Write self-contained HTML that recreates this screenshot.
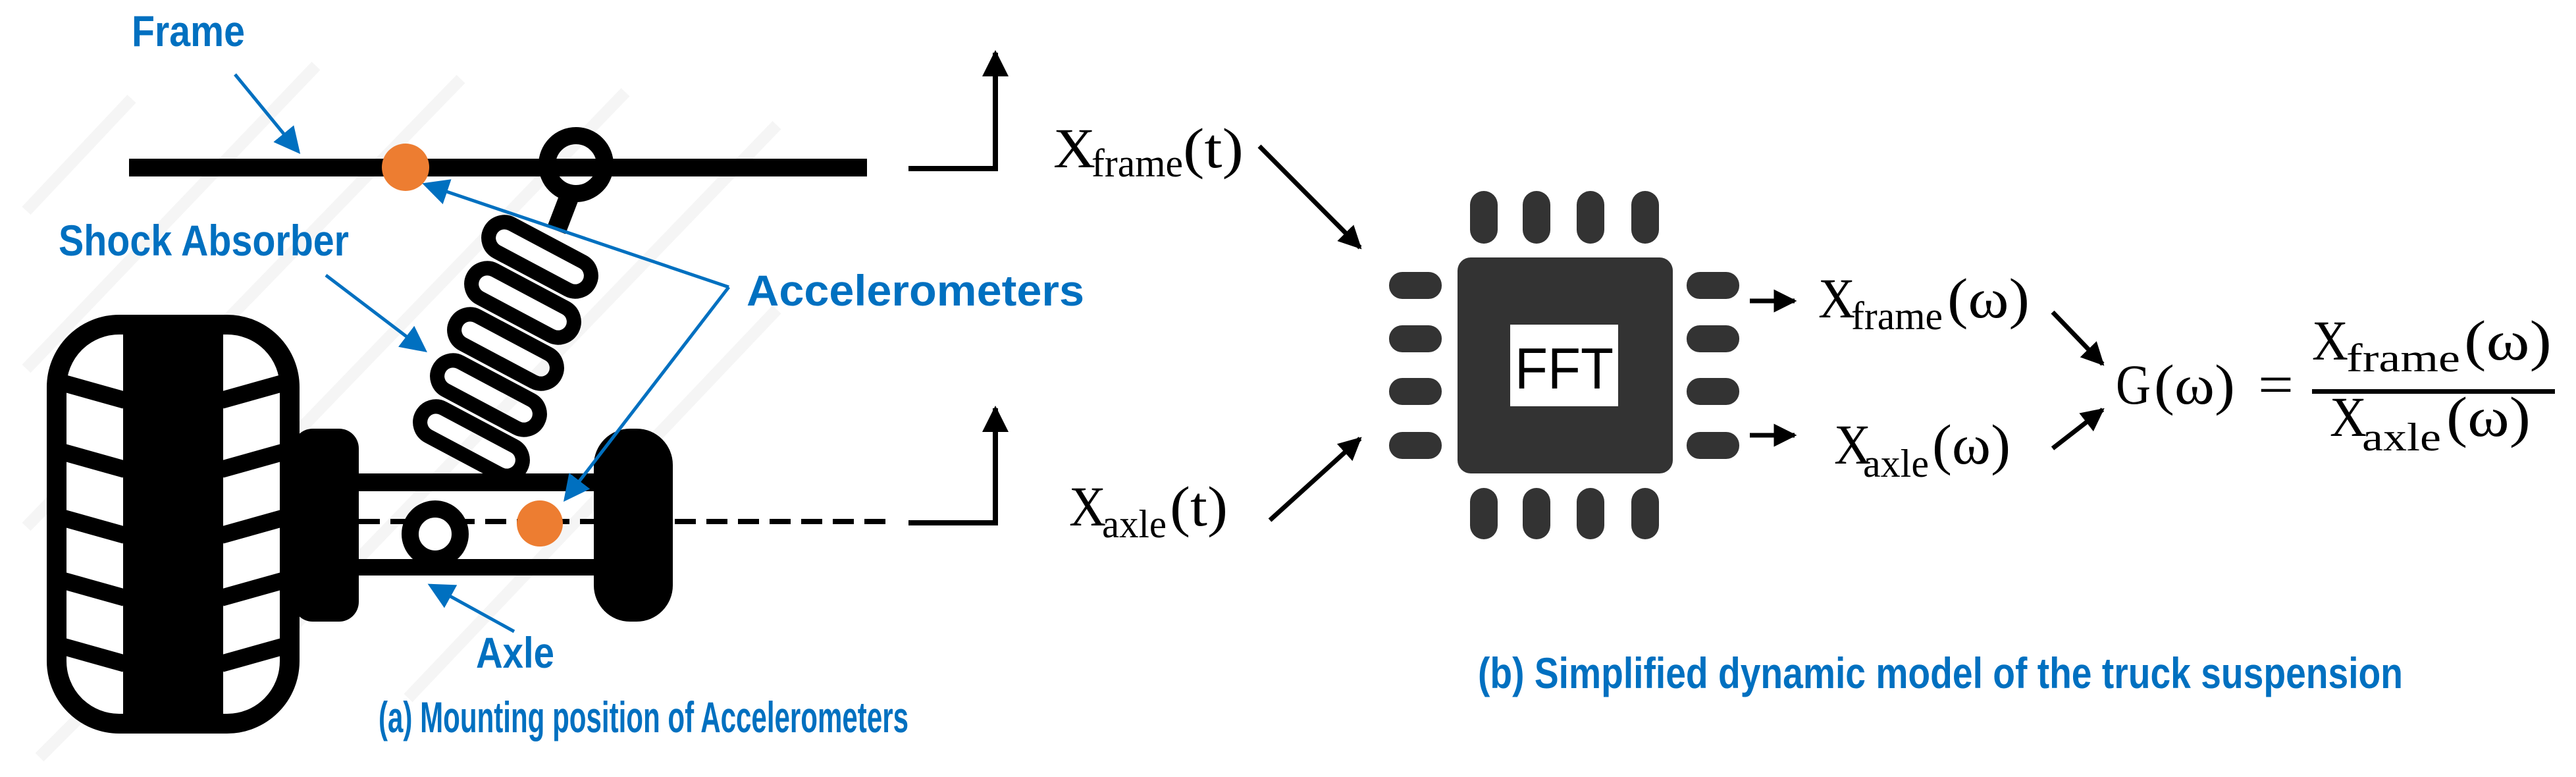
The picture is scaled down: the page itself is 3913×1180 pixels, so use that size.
<!DOCTYPE html>
<html><head><meta charset="utf-8"><style>
html,body{margin:0;padding:0;background:#fff;width:3913px;height:1180px;overflow:hidden}
svg{display:block}
.lb{font-family:"Liberation Sans",sans-serif;font-weight:bold;fill:#0070C0;font-size:66px}
.m{font-family:"Liberation Serif",serif;fill:#000;font-size:86px}
.s{font-family:"Liberation Serif",serif;fill:#000;font-size:60px}
</style></head><body>
<svg width="3913" height="1180" viewBox="0 0 3913 1180" xmlns="http://www.w3.org/2000/svg">
<defs>
<marker id="ab" markerWidth="8" markerHeight="8" refX="7" refY="4" orient="auto" markerUnits="strokeWidth"><path d="M0,0 L8,4 L0,8 z" fill="#0070C0"/></marker>
<marker id="ak" markerWidth="5" markerHeight="5" refX="4.5" refY="2.5" orient="auto" markerUnits="strokeWidth"><path d="M0,0 L5,2.5 L0,5 z" fill="#000"/></marker>
</defs>
<g stroke="#f5f5f5" stroke-width="18">
<line x1="40" y1="320" x2="200" y2="150"/><line x1="40" y1="560" x2="480" y2="100"/>
<line x1="40" y1="800" x2="700" y2="120"/><line x1="120" y1="1000" x2="950" y2="140"/>
<line x1="360" y1="1040" x2="1180" y2="190"/><line x1="620" y1="1060" x2="1180" y2="470"/>
<line x1="60" y1="1150" x2="140" y2="1070"/>
</g>
<rect x="196" y="241" width="1121" height="27" fill="#000"/>
<circle cx="875" cy="250" r="44" fill="none" stroke="#000" stroke-width="26"/>
<line x1="868" y1="290" x2="845" y2="350" stroke="#000" stroke-width="30"/>
<g fill="none" stroke="#000" stroke-width="22">
<rect x="-85" y="-24" width="170" height="48" rx="24" transform="translate(820,390) rotate(28)"/>
<rect x="-85" y="-24" width="170" height="48" rx="24" transform="translate(794,460) rotate(28)"/>
<rect x="-85" y="-24" width="170" height="48" rx="24" transform="translate(768,530) rotate(28)"/>
<rect x="-85" y="-24" width="170" height="48" rx="24" transform="translate(742,600) rotate(28)"/>
<rect x="-85" y="-24" width="170" height="48" rx="24" transform="translate(716,670) rotate(28)"/>
</g>
<rect x="86" y="493" width="354" height="606" rx="95" fill="#fff" stroke="#000" stroke-width="30"/>
<rect x="187" y="480" width="152" height="632" fill="#000"/>
<g stroke="#000" stroke-width="26">
<line x1="90" y1="580" x2="190" y2="608"/><line x1="90" y1="685" x2="190" y2="713"/>
<line x1="90" y1="785" x2="190" y2="813"/><line x1="90" y1="880" x2="190" y2="908"/>
<line x1="90" y1="980" x2="190" y2="1008"/>
<line x1="336" y1="608" x2="436" y2="580"/><line x1="336" y1="713" x2="436" y2="685"/>
<line x1="336" y1="813" x2="436" y2="785"/><line x1="336" y1="908" x2="436" y2="880"/>
<line x1="336" y1="1008" x2="436" y2="980"/>
</g>
<rect x="445" y="651" width="100" height="293" rx="30" fill="#000"/>
<rect x="902" y="651" width="120" height="293" rx="55" fill="#000"/>
<rect x="540" y="719" width="370" height="27" fill="#000"/>
<rect x="540" y="849" width="370" height="25" fill="#000"/>
<line x1="545" y1="792" x2="1360" y2="792" stroke="#000" stroke-width="8" stroke-dasharray="32,16"/>
<circle cx="661" cy="811" r="38" fill="#fff" stroke="#000" stroke-width="26"/>
<circle cx="616" cy="254" r="36" fill="#ED7D31"/>
<circle cx="820" cy="795" r="35" fill="#ED7D31"/>
<g stroke="#0070C0" stroke-width="5" fill="none">
<line x1="357" y1="113" x2="453" y2="230" marker-end="url(#ab)"/>
<line x1="495" y1="418" x2="645" y2="532" marker-end="url(#ab)"/>
<line x1="1107" y1="436" x2="646" y2="280" marker-end="url(#ab)"/>
<line x1="1107" y1="436" x2="859" y2="758" marker-end="url(#ab)"/>
<line x1="781" y1="959" x2="654" y2="889" marker-end="url(#ab)"/>
</g>
<text class="lb" x="200" y="70" textLength="172" lengthAdjust="spacingAndGlyphs">Frame</text>
<text class="lb" x="89" y="388" textLength="441" lengthAdjust="spacingAndGlyphs">Shock Absorber</text>
<text class="lb" x="1134" y="464" textLength="513" lengthAdjust="spacingAndGlyphs">Accelerometers</text>
<text class="lb" x="723" y="1014" textLength="119" lengthAdjust="spacingAndGlyphs">Axle</text>
<text class="lb" x="575" y="1112" textLength="805" lengthAdjust="spacingAndGlyphs">(a) Mounting position of Accelerometers</text>
<text class="lb" x="2245" y="1045" textLength="1405" lengthAdjust="spacingAndGlyphs">(b) Simplified dynamic model of the truck suspension</text>
<g stroke="#000" stroke-width="8" fill="none">
<polyline points="1380,256 1512,256 1512,80" marker-end="url(#ak)"/>
<polyline points="1380,794 1512,794 1512,620" marker-end="url(#ak)"/>
</g>
<text class="m" x="1600" y="254" textLength="64" lengthAdjust="spacingAndGlyphs">X</text>
<text class="s" x="1658" y="268" textLength="139" lengthAdjust="spacingAndGlyphs">frame</text>
<text class="m" x="1797" y="254" textLength="92" lengthAdjust="spacingAndGlyphs">(t)</text>
<text class="m" x="1624" y="798" textLength="56" lengthAdjust="spacingAndGlyphs">X</text>
<text class="s" x="1674" y="816" textLength="98" lengthAdjust="spacingAndGlyphs">axle</text>
<text class="m" x="1777" y="798" textLength="88" lengthAdjust="spacingAndGlyphs">(t)</text>
<g stroke="#000" stroke-width="7">
<line x1="1913" y1="222" x2="2066" y2="376" marker-end="url(#ak)"/>
<line x1="1929" y1="790" x2="2066" y2="666" marker-end="url(#ak)"/>
<line x1="2658" y1="457" x2="2726" y2="457" marker-end="url(#ak)"/>
<line x1="2658" y1="661" x2="2726" y2="661" marker-end="url(#ak)"/>
<line x1="3118" y1="474" x2="3194" y2="553" marker-end="url(#ak)"/>
<line x1="3118" y1="681" x2="3194" y2="622" marker-end="url(#ak)"/>
</g>
<g fill="#333">
<rect x="2214" y="391" width="327" height="328" rx="20"/>
<rect x="2233" y="290" width="42" height="80" rx="21"/><rect x="2313" y="290" width="42" height="80" rx="21"/>
<rect x="2395" y="290" width="42" height="80" rx="21"/><rect x="2478" y="290" width="42" height="80" rx="21"/>
<rect x="2233" y="741" width="42" height="78" rx="21"/><rect x="2313" y="741" width="42" height="78" rx="21"/>
<rect x="2395" y="741" width="42" height="78" rx="21"/><rect x="2478" y="741" width="42" height="78" rx="21"/>
<rect x="2110" y="413" width="80" height="41" rx="20"/><rect x="2110" y="494" width="80" height="41" rx="20"/>
<rect x="2110" y="574" width="80" height="41" rx="20"/><rect x="2110" y="656" width="80" height="41" rx="20"/>
<rect x="2562" y="413" width="80" height="41" rx="20"/><rect x="2562" y="494" width="80" height="41" rx="20"/>
<rect x="2562" y="574" width="80" height="41" rx="20"/><rect x="2562" y="656" width="80" height="41" rx="20"/>
</g>
<rect x="2294" y="493" width="164" height="124" fill="#fff"/>
<text x="2301" y="590" font-family="Liberation Sans,sans-serif" font-size="88" textLength="150" lengthAdjust="spacingAndGlyphs" fill="#000">FFT</text>
<text class="m" x="2762" y="482" textLength="56" lengthAdjust="spacingAndGlyphs">X</text>
<text class="s" x="2812" y="500" textLength="139" lengthAdjust="spacingAndGlyphs">frame</text>
<text class="m" x="2958" y="482" textLength="125" lengthAdjust="spacingAndGlyphs">(ω)</text>
<text class="m" x="2786" y="704" textLength="56" lengthAdjust="spacingAndGlyphs">X</text>
<text class="s" x="2830" y="724" textLength="100" lengthAdjust="spacingAndGlyphs">axle</text>
<text class="m" x="2935" y="704" textLength="119" lengthAdjust="spacingAndGlyphs">(ω)</text>
<text class="m" x="3214" y="613" textLength="53" lengthAdjust="spacingAndGlyphs">G</text>
<text class="m" x="3272" y="613" textLength="123" lengthAdjust="spacingAndGlyphs">(ω)</text>
<text class="m" x="3430" y="613" textLength="54" lengthAdjust="spacingAndGlyphs">=</text>
<text class="m" x="3512" y="546" textLength="55" lengthAdjust="spacingAndGlyphs">X</text>
<text class="s" x="3564" y="564" textLength="173" lengthAdjust="spacingAndGlyphs">frame</text>
<text class="m" x="3743" y="546" textLength="133" lengthAdjust="spacingAndGlyphs">(ω)</text>
<rect x="3512" y="591" width="369" height="7" fill="#000"/>
<text class="m" x="3539" y="662" textLength="56" lengthAdjust="spacingAndGlyphs">X</text>
<text class="s" x="3588" y="684" textLength="120" lengthAdjust="spacingAndGlyphs">axle</text>
<text class="m" x="3716" y="662" textLength="128" lengthAdjust="spacingAndGlyphs">(ω)</text>
</svg>
</body></html>
